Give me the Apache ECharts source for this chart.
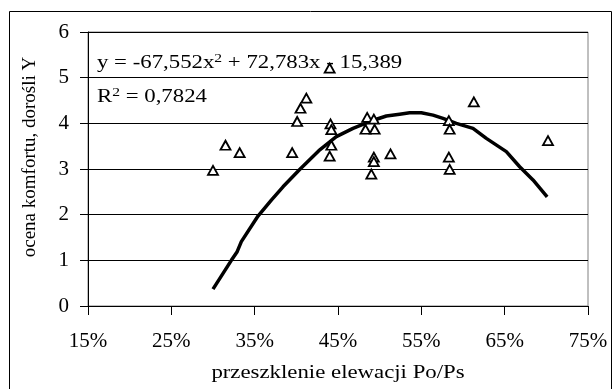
<!DOCTYPE html>
<html>
<head>
<meta charset="utf-8">
<script src="https://cdn.jsdelivr.net/npm/echarts@6/dist/echarts.min.js"></script>
<style>
html,body{margin:0;padding:0;background:#fff;}
#c{width:614px;height:389px;}
</style>
</head>
<body>
<div id="c"></div>
<script>
// Observed data (x in %, y = comfort rating)
const obsX = [30.0, 31.5, 33.2, 39.5, 40.1, 40.5, 41.2, 44.0, 44.1, 44.2, 44.2, 44.0, 48.5, 49.3, 48.3, 49.4, 49.3, 49.3, 49.0, 51.3, 58.3, 58.4, 58.3, 58.4, 61.3, 70.2];
const obsY = [2.97, 3.52, 3.36, 3.36, 4.04, 4.33, 4.55, 5.21, 3.99, 3.86, 3.52, 3.28, 4.13, 4.09, 3.87, 3.87, 3.26, 3.16, 2.89, 3.33, 4.06, 3.87, 3.26, 2.99, 4.47, 3.62];
// Trend line
const trendX = [30.0, 32.2, 32.9, 33.4, 35.4, 37.0, 38.4, 40.4, 42.7, 44.8, 46.8, 48.8, 50.8, 52.4, 53.6, 55.0, 56.4, 57.6, 59.2, 61.2, 62.8, 65.2, 66.8, 68.4, 70.1];
const trendY = [0.37, 1.00, 1.19, 1.41, 1.97, 2.32, 2.61, 2.99, 3.40, 3.71, 3.89, 4.04, 4.16, 4.20, 4.23, 4.23, 4.18, 4.11, 4.00, 3.89, 3.67, 3.38, 3.05, 2.76, 2.39];
const xTicks = [15, 25, 35, 45, 55, 65, 75];
const yTicks = [0, 1, 2, 3, 4, 5, 6];
const xTitle = 'przeszklenie elewacji Po/Ps';
const yTitle = 'ocena komfortu, dorośli Y';
const eqText = 'y = -67,552x{sup|2} + 72,783x - 15,389';
const r2Text = 'R{sup|2} = 0,7824';

const FONT = '"Liberation Serif", "Times New Roman", serif';
const SX = 1.2;
const chart = echarts.init(document.getElementById('c'));
chart.setOption({
  animation: false,
  backgroundColor: '#fff',
  grid: { left: 88, right: 26, top: 32, bottom: 83, show: true, borderColor: '#808080', borderWidth: 1, backgroundColor: 'transparent' },
  xAxis: {
    type: 'value', min: 15, max: 75,
    axisLine: { show: true, onZero: false, lineStyle: { color: '#000', width: 1 } },
    axisTick: { show: true, length: 9, inside: false, customValues: xTicks, lineStyle: { color: '#000' } },
    axisLabel: { customValues: xTicks, formatter: v => v + '%', fontFamily: FONT, fontSize: 21, color: '#000', margin: 25 },
    splitLine: { show: false }
  },
  yAxis: {
    type: 'value', min: 0, max: 6, interval: 1,
    axisLine: { show: true, onZero: false, lineStyle: { color: '#000', width: 1 } },
    axisTick: { show: true, length: 8, inside: false, lineStyle: { color: '#000' } },
    axisLabel: { fontFamily: FONT, fontSize: 21, color: '#000', margin: 19, formatter: v => yTicks.includes(v) ? String(v) : '' },
    splitLine: { show: true, lineStyle: { color: '#000', width: 1 } }
  },
  graphic: [
    { type: 'rect', shape: { x: 9.5, y: 11.5, width: 602, height: 400 }, style: { fill: 'none', stroke: '#000', lineWidth: 1 }, z: 0, silent: true },
    { type: 'text', x: 30, y: 157, rotation: Math.PI / 2, style: { text: yTitle, font: '19px ' + FONT, fill: '#000', align: 'center', verticalAlign: 'middle' }, z: 10 },
    { type: 'text', x: 338, y: 373, scaleX: SX, style: { text: xTitle, font: '19px ' + FONT, fill: '#000', align: 'center', verticalAlign: 'middle' }, z: 10 },
    { type: 'text', x: 97, y: 63, scaleX: SX, style: { text: eqText, fill: '#000', align: 'left', verticalAlign: 'middle', fontFamily: FONT, fontSize: 19, rich: { sup: { fontFamily: FONT, fontSize: 13, verticalAlign: 'top', padding: [0, 0, 9, 0] } } }, z: 1 },
    { type: 'text', x: 97, y: 97, scaleX: SX, style: { text: r2Text, fill: '#000', align: 'left', verticalAlign: 'middle', fontFamily: FONT, fontSize: 19, rich: { sup: { fontFamily: FONT, fontSize: 13, verticalAlign: 'top', padding: [0, 0, 9, 0] } } }, z: 1 }
  ],
  series: [
    {
      type: 'line', data: trendX.map((x, i) => [x, trendY[i]]), showSymbol: false, symbol: 'none',
      lineStyle: { color: '#000', width: 3.5 }, z: 3, silent: true
    },
    {
      type: 'scatter', data: obsX.map((x, i) => [x, obsY[i]]), symbol: 'triangle', symbolSize: [10, 9],
      itemStyle: { color: '#fff', borderColor: '#000', borderWidth: 1.8, opacity: 1 }, z: 5, silent: true
    }
  ]
});
</script>
</body>
</html>
